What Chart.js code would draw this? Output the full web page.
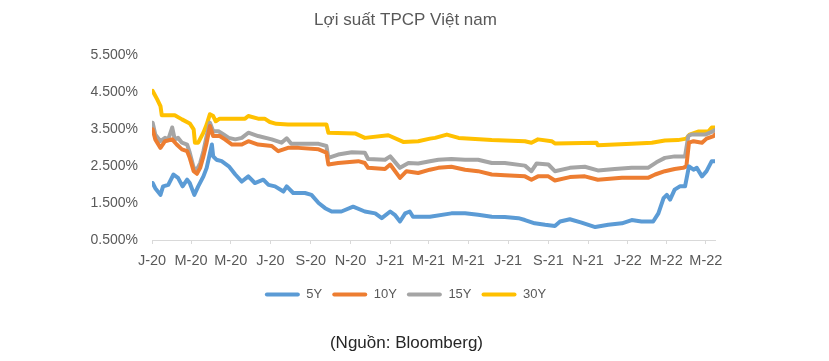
<!DOCTYPE html>
<html>
<head>
<meta charset="utf-8">
<script src="https://cdn.jsdelivr.net/npm/chart.js@4.4.1/dist/chart.umd.min.js"></script>
<style>
  html, body { margin: 0; padding: 0; background: #ffffff; }
  #wrap { position: relative; width: 829px; height: 361px; }
  #src { position: absolute; left: 0; top: 333px; width: 813px; text-align: center;
         font-family: "Liberation Sans", Arial, sans-serif; font-size: 17px; color: #262626; }
</style>
</head>
<body>
<div id="wrap">
  <canvas id="c" width="829" height="361"></canvas>
  <div id="src">(Nguồn: Bloomberg)</div>
</div>
<script>
// ---- Data ----
const seriesNames = ['5Y', '10Y', '15Y', '30Y'];

const dates5Y = ['2020-01-02','2020-01-06','2020-01-14','2020-01-18','2020-01-26','2020-02-03','2020-02-10','2020-02-17','2020-02-24','2020-02-28',
  '2020-03-06','2020-03-12','2020-03-20','2020-03-25','2020-04-02','2020-04-04','2020-04-09','2020-04-17','2020-04-28','2020-05-08',
  '2020-05-18','2020-05-28','2020-06-07','2020-06-20','2020-06-28','2020-07-08','2020-07-21','2020-07-26','2020-08-05','2020-08-23',
  '2020-09-02','2020-09-13','2020-09-23','2020-10-03','2020-10-18','2020-11-05','2020-11-23','2020-12-09','2020-12-19','2021-01-01',
  '2021-01-08','2021-01-16','2021-01-24','2021-01-31','2021-02-05','2021-03-03','2021-04-05','2021-04-26','2021-05-16','2021-06-06',
  '2021-06-26','2021-07-17','2021-07-27','2021-08-11','2021-08-27','2021-09-11','2021-09-19','2021-10-04','2021-10-22','2021-11-12',
  '2021-12-02','2021-12-23','2022-01-07','2022-01-22','2022-02-09','2022-02-17','2022-02-25','2022-03-02','2022-03-07','2022-03-14',
  '2022-03-22','2022-03-30','2022-04-05','2022-04-12','2022-04-17','2022-04-25','2022-05-02','2022-05-10','2022-05-15'];
const values5Y = [2.04,1.90,1.72,1.95,1.99,2.27,2.18,1.95,2.13,2.04,
  1.72,1.95,2.22,2.45,3.08,2.76,2.67,2.63,2.49,2.27,
  2.08,2.22,2.04,2.13,1.99,1.95,1.81,1.95,1.77,1.77,
  1.72,1.50,1.36,1.27,1.27,1.40,1.27,1.22,1.09,1.27,
  1.18,1.00,1.22,1.27,1.13,1.13,1.22,1.22,1.18,1.13,
  1.12,1.09,1.04,0.95,0.91,0.88,1.00,1.06,0.97,0.85,
  0.91,0.95,1.04,1.00,1.00,1.22,1.63,1.72,1.59,1.86,
  1.95,1.95,2.49,2.40,2.45,2.22,2.36,2.63,2.63];

const dates10Y = ['2020-01-02','2020-01-06','2020-01-14','2020-01-21','2020-02-01','2020-02-08','2020-02-16','2020-02-24','2020-02-28','2020-03-05',
  '2020-03-10','2020-03-15','2020-03-20','2020-03-25','2020-03-30','2020-04-04','2020-04-14','2020-04-22','2020-05-03','2020-05-18',
  '2020-05-28','2020-06-12','2020-07-03','2020-07-13','2020-07-28','2020-08-13','2020-09-13','2020-09-25','2020-09-28','2020-10-13',
  '2020-11-13','2020-11-23','2020-11-28','2020-12-24','2021-01-01','2021-01-16','2021-01-26','2021-02-13','2021-03-03','2021-03-16',
  '2021-04-05','2021-04-26','2021-05-16','2021-06-06','2021-06-26','2021-07-27','2021-08-06','2021-08-16','2021-09-01','2021-09-11',
  '2021-10-04','2021-10-27','2021-11-16','2021-12-23','2022-02-01','2022-02-12','2022-02-27','2022-03-14','2022-03-27','2022-04-01',
  '2022-04-05','2022-04-12','2022-04-25','2022-05-02','2022-05-13','2022-05-15'];
const values10Y = [3.49,3.22,2.99,3.17,3.22,3.08,2.95,2.90,2.72,2.36,
  2.29,2.45,2.76,3.13,3.58,3.31,3.31,3.22,3.08,3.08,
  3.17,3.08,3.04,2.90,2.99,2.99,2.95,2.86,2.54,2.58,
  2.63,2.58,2.45,2.42,2.54,2.18,2.36,2.31,2.40,2.45,
  2.48,2.40,2.36,2.27,2.25,2.22,2.13,2.22,2.22,2.11,
  2.20,2.22,2.13,2.18,2.18,2.27,2.36,2.42,2.45,2.49,
  3.13,3.17,3.13,3.24,3.31,3.35];

const dates15Y = ['2020-01-02','2020-01-06','2020-01-14','2020-01-21','2020-01-26','2020-02-01','2020-02-05','2020-02-10','2020-02-16','2020-02-24',
  '2020-02-28','2020-03-05','2020-03-10','2020-03-15','2020-03-20','2020-03-25','2020-03-30','2020-04-04','2020-04-12','2020-04-20',
  '2020-04-28','2020-05-08','2020-05-18','2020-05-28','2020-06-12','2020-07-03','2020-07-18','2020-07-26','2020-08-02','2020-09-13',
  '2020-09-25','2020-09-28','2020-10-13','2020-11-03','2020-11-23','2020-11-28','2020-12-24','2021-01-01','2021-01-16','2021-01-29',
  '2021-02-13','2021-03-03','2021-03-16','2021-04-05','2021-04-26','2021-05-16','2021-06-06','2021-06-26','2021-07-27','2021-08-06',
  '2021-08-14','2021-09-01','2021-09-11','2021-10-04','2021-10-27','2021-11-16','2021-12-12','2022-01-07','2022-02-01','2022-02-14',
  '2022-02-27','2022-03-14','2022-03-30','2022-04-04','2022-04-09','2022-04-30','2022-05-10','2022-05-15'];
const values15Y = [3.67,3.35,3.17,3.26,3.22,3.54,3.22,3.26,3.13,3.08,
  2.86,2.45,2.40,2.58,2.90,3.31,3.67,3.44,3.44,3.35,
  3.26,3.22,3.26,3.40,3.31,3.22,3.13,3.25,3.10,3.10,
  3.04,2.72,2.81,2.87,2.86,2.69,2.67,2.76,2.45,2.58,
  2.57,2.63,2.67,2.69,2.67,2.67,2.58,2.58,2.51,2.36,
  2.57,2.54,2.36,2.45,2.48,2.38,2.42,2.45,2.45,2.60,
  2.72,2.76,2.76,3.31,3.35,3.35,3.42,3.47];

const dates30Y = ['2020-01-02','2020-01-09','2020-01-14','2020-01-16','2020-02-05','2020-02-16','2020-02-28','2020-03-05','2020-03-07','2020-03-12',
  '2020-03-20','2020-03-25','2020-03-30','2020-04-04','2020-04-08','2020-04-14','2020-05-23','2020-05-28','2020-06-12','2020-06-22',
  '2020-06-30','2020-07-10','2020-07-28','2020-09-25','2020-09-28','2020-11-08','2020-11-23','2020-12-29','2021-01-21','2021-02-13',
  '2021-03-03','2021-03-11','2021-03-29','2021-04-16','2021-06-06','2021-07-27','2021-08-06','2021-08-16','2021-09-06','2021-09-11',
  '2021-11-14','2021-11-16','2022-01-07','2022-02-07','2022-02-27','2022-03-19','2022-04-01','2022-04-06','2022-04-19','2022-05-05',
  '2022-05-10','2022-05-15'];
const values30Y = [4.53,4.30,4.12,3.87,3.87,3.76,3.65,3.49,3.13,3.13,
  3.40,3.62,3.90,3.85,3.71,3.78,3.78,3.85,3.78,3.78,
  3.69,3.64,3.62,3.62,3.40,3.38,3.26,3.33,3.15,3.17,
  3.24,3.26,3.35,3.26,3.20,3.17,3.13,3.22,3.17,3.11,
  3.13,3.06,3.10,3.13,3.19,3.20,3.24,3.35,3.43,3.44,
  3.54,3.54];

const tickDates = ['2020-01-01','2020-03-01','2020-05-01','2020-07-01','2020-09-01','2020-11-01','2021-01-01','2021-03-01',
  '2021-05-01','2021-07-01','2021-09-01','2021-11-01','2022-01-01','2022-03-01','2022-05-01'];
const tickLabels = ['J-20','M-20','M-20','J-20','S-20','N-20','J-21','M-21','M-21','J-21','S-21','N-21','J-22','M-22','M-22'];
const axisStart = '2020-01-01';
const axisEnd = '2022-05-15';
const yTicks = [0.5, 1.5, 2.5, 3.5, 4.5, 5.5];

// ---- Helpers ----
const DAY = 86400000;
const base = Date.parse(axisStart + 'T00:00:00Z');
const dayOf = s => Math.round((Date.parse(s + 'T00:00:00Z') - base) / DAY);
const toPoints = (ds, vs) => ds.map((d, i) => ({ x: dayOf(d), y: vs[i] }));
const tickPos = tickDates.map(dayOf);

const FONT = '"Liberation Sans", Arial, sans-serif';
const colors = ['#5B9BD5', '#ED7D31', '#A5A5A5', '#FFC000'];
const allDates = [dates5Y, dates10Y, dates15Y, dates30Y];
const allValues = [values5Y, values10Y, values15Y, values30Y];

const datasets = seriesNames.map((n, i) => ({
  label: n,
  data: toPoints(allDates[i], allValues[i]),
  borderColor: colors[i],
  backgroundColor: colors[i],
  borderWidth: 4,
  pointRadius: 0,
  tension: 0,
  borderJoinStyle: 'round',
  borderCapStyle: 'round',
  fill: false,
  yAxisID: 'y'
}));

new Chart(document.getElementById('c'), {
  type: 'line',
  data: { datasets },
  options: {
    responsive: false,
    animation: false,
    devicePixelRatio: 1,
    layout: { padding: { left: 0, right: 18, top: 0, bottom: 50 } },
    plugins: {
      title: {
        display: true,
        text: 'Lợi suất TPCP Việt nam',
        color: '#595959',
        font: { family: FONT, size: 17, weight: 'normal' },
        padding: { top: 10, bottom: 24.6 }
      },
      legend: {
        position: 'bottom',
        labels: {
          boxWidth: 35,
          boxHeight: 4,
          padding: 10,
          color: '#595959',
          font: { family: FONT, size: 13 },
          generateLabels: (chart) => Chart.defaults.plugins.legend.labels.generateLabels(chart)
            .map(it => Object.assign(it, { lineWidth: 0, fillStyle: it.strokeStyle, borderRadius: 2 }))
        }
      },
      tooltip: { enabled: false }
    },
    scales: {
      x: {
        type: 'linear',
        min: dayOf(axisStart),
        max: dayOf(axisEnd),
        afterBuildTicks: (s) => { s.ticks = tickPos.map(v => ({ value: v })); },
        afterFit: (s) => { s.height = 38; },
        ticks: {
          autoSkip: false,
          maxRotation: 0,
          padding: 8,
          color: '#595959',
          font: { family: FONT, size: 14.5 },
          callback: (v) => { const i = tickPos.indexOf(v); return i >= 0 ? tickLabels[i] : ''; }
        },
        grid: { display: true, drawOnChartArea: false, drawTicks: true, tickLength: 4, color: '#D9D9D9' },
        border: { display: true, color: '#D9D9D9', width: 1 }
      },
      y: {
        type: 'linear',
        position: 'left',
        min: 0.5,
        max: 5.5,
        afterBuildTicks: (s) => { s.ticks = yTicks.map(v => ({ value: v })); },
        afterFit: (s) => { s.width = 152; },
        ticks: {
          padding: 14,
          color: '#595959',
          font: { family: FONT, size: 14 },
          callback: (v) => v.toFixed(3) + '%'
        },
        grid: { display: false, drawTicks: false },
        border: { display: false }
      },
      yRight: {
        type: 'linear',
        position: 'right',
        min: 0.5,
        max: 5.5,
        afterFit: (s) => { s.width = 96; },
        ticks: { display: false },
        grid: { display: false, drawTicks: false },
        border: { display: false }
      }
    }
  }
});
</script>
</body>
</html>
